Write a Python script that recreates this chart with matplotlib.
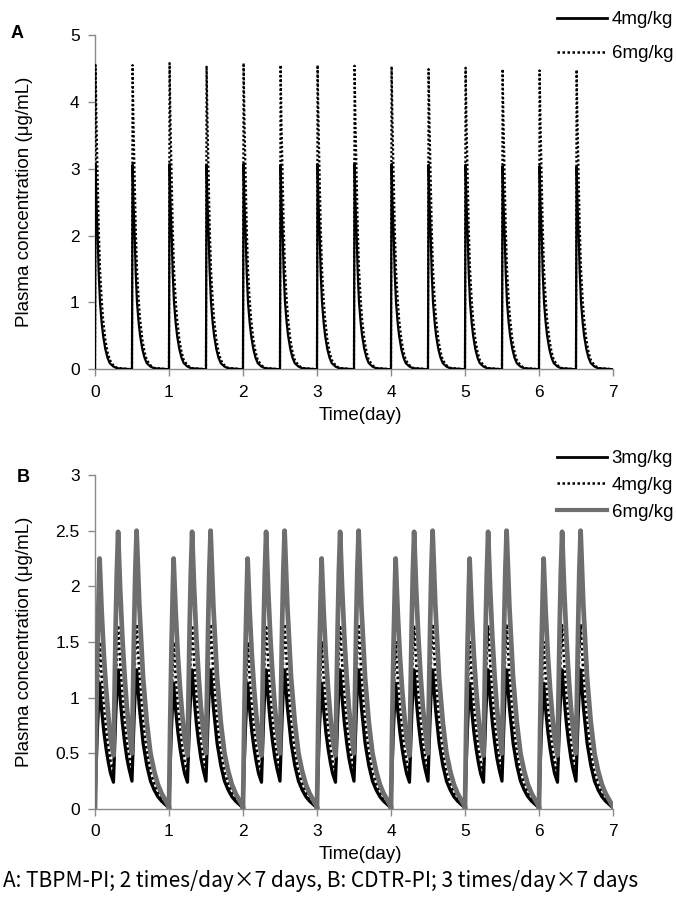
"""
Simulated plasma concentration profiles:
  A - TBPM-PI, 2 doses/day x 7 days (4 and 6 mg/kg)
  B - CDTR-PI, 3 doses/day x 7 days (3, 4 and 6 mg/kg)
Output: out.png
"""
import matplotlib
matplotlib.use('Agg')
import matplotlib.pyplot as plt
from matplotlib.lines import Line2D

plt.rcParams['font.family'] = ['Liberation Sans', 'DejaVu Sans']

# ── Panel A: TBPM-PI, two doses per day ───────────────────────────────────────
A_DOSE_TIMES = [0.0, 0.5, 1.0, 1.5, 2.0, 2.5, 3.0, 3.5, 4.0, 4.5, 5.0, 5.5, 6.0, 6.5]
A_PEAK_4 = [3.07, 3.06, 3.07, 3.06, 3.07, 3.06, 3.07, 3.08, 3.07, 3.06, 3.06, 3.04, 3.04, 3.03]
A_PEAK_6 = [4.55, 4.55, 4.58, 4.54, 4.58, 4.55, 4.55, 4.54, 4.53, 4.49, 4.51, 4.49, 4.47, 4.48]

# shape of one pulse (days after dose): start, peak, then decay values
A_OFFSETS = [0.0, 0.008, 0.02, 0.036, 0.05, 0.068, 0.09, 0.11, 0.14, 0.17, 0.20, 0.25, 0.30, 0.50]
A_TAIL_4 = [2.5, 2.0, 1.45, 1.0, 0.7, 0.5, 0.3, 0.17, 0.09, 0.04, 0.015, 0.0]
A_TAIL_6 = [3.7, 2.9, 2.15, 1.5, 1.05, 0.75, 0.45, 0.26, 0.14, 0.06, 0.02, 0.0]

# ── Panel B: CDTR-PI, three doses per day (same profile every day) ─────────────
B_DAYS = [0, 1, 2, 3, 4, 5, 6]
B_OFFSETS = [0.0, 0.017, 0.034, 0.051, 0.0625,
             0.09, 0.12, 0.15, 0.18, 0.21, 0.25,
             0.265, 0.28, 0.295, 0.3125,
             0.34, 0.37, 0.40, 0.43, 0.46, 0.50,
             0.515, 0.53, 0.545, 0.5625,
             0.60, 0.65, 0.70, 0.75, 0.80, 0.85, 0.90, 0.95, 1.0]
B_3 = [0.0, 0.40, 0.73, 0.98, 1.13,
       0.89, 0.69, 0.54, 0.42, 0.32, 0.24,
       0.55, 0.83, 1.06, 1.25,
       0.99, 0.77, 0.60, 0.46, 0.36, 0.25,
       0.56, 0.84, 1.07, 1.25,
       0.91, 0.59, 0.39, 0.25, 0.17, 0.11, 0.07, 0.04, 0.01]
B_4 = [0.0, 0.53, 0.97, 1.31, 1.50,
       1.19, 0.92, 0.72, 0.56, 0.43, 0.32,
       0.73, 1.11, 1.41, 1.65,
       1.32, 1.03, 0.80, 0.61, 0.48, 0.33,
       0.75, 1.12, 1.43, 1.66,
       1.21, 0.79, 0.52, 0.33, 0.23, 0.15, 0.09, 0.05, 0.01]
B_6 = [0.0, 0.80, 1.46, 1.96, 2.25,
       1.78, 1.38, 1.08, 0.84, 0.64, 0.48,
       1.10, 1.66, 2.12, 2.49,
       1.98, 1.54, 1.20, 0.92, 0.72, 0.50,
       1.12, 1.68, 2.14, 2.50,
       1.82, 1.18, 0.78, 0.50, 0.34, 0.22, 0.14, 0.08, 0.02]

A_TICKS_Y = [0, 1, 2, 3, 4, 5]
B_TICKS_Y = [0, 0.5, 1, 1.5, 2, 2.5, 3]
B_TICKLABELS_Y = ['0', '0.5', '1', '1.5', '2', '2.5', '3']
X_TICKS = [0, 1, 2, 3, 4, 5, 6, 7]

CAPTION = "A: TBPM-PI; 2 times/day\u00d77 days, B: CDTR-PI; 3 times/day\u00d77 days"

AXIS_GREY = '#8a8a8a'
LINE_GREY = '#6e6e6e'
DOT = (0, (1, 1))


def train_a(peaks, tail):
    t, c = [], []
    for d, p in zip(A_DOSE_TIMES, peaks):
        t += [d + o for o in A_OFFSETS]
        c += [0.0, p] + tail
    return t, c


def train_b(profile):
    t, c = [], []
    for d in B_DAYS:
        t += [d + o for o in B_OFFSETS]
        c += profile
    return t, c


def style_axes(ax, yticks, ylabels, ymax):
    ax.set_xlim(0, 7)
    ax.set_ylim(0, ymax)
    ax.set_xticks(X_TICKS)
    ax.set_yticks(yticks)
    ax.set_yticklabels(ylabels)
    for s in ('top', 'right'):
        ax.spines[s].set_visible(False)
    for s in ('left', 'bottom'):
        ax.spines[s].set_color(AXIS_GREY)
        ax.spines[s].set_linewidth(1.0)
    ax.tick_params(colors=AXIS_GREY, labelcolor='black', labelsize=12.5,
                   length=5, width=1.0, pad=6)
    ax.set_xlabel('Time(day)', fontsize=13.5)
    ax.set_ylabel('Plasma concentration (\u03bcg/mL)', fontsize=13.5)
    ax.xaxis.set_label_coords(0.513, -0.112)
    ax.yaxis.set_label_coords(-0.12, 0.5)


fig = plt.figure(figsize=(6.76, 9.14), dpi=100)
axA = fig.add_axes([0.1405, 0.5960, 0.7663, 0.3657])
axB = fig.add_axes([0.1405, 0.1149, 0.7663, 0.3654])

# ── A ──
t4, c4 = train_a(A_PEAK_4, A_TAIL_4)
t6, c6 = train_a(A_PEAK_6, A_TAIL_6)
axA.plot(t4, c4, color='black', lw=1.6, zorder=3)
axA.plot(t6, c6, color='black', lw=1.6, linestyle=DOT, zorder=4)
style_axes(axA, A_TICKS_Y, [str(v) for v in A_TICKS_Y], 5)

handles_a = [Line2D([], [], color='black', lw=2.0),
             Line2D([], [], color='black', lw=1.8, linestyle=DOT)]
axA.legend(handles_a, ['4mg/kg', '6mg/kg'], loc='upper left',
           bbox_to_anchor=(0.824, 0.988), bbox_transform=fig.transFigure,
           frameon=False, fontsize=13.5, handlelength=2.67, handletextpad=0.25,
           labelspacing=0.92, borderpad=0, borderaxespad=0)

# ── B ──
tb, cb3 = train_b(B_3)
_, cb4 = train_b(B_4)
_, cb6 = train_b(B_6)
axB.plot(tb, cb3, color='black', lw=2.3, solid_joinstyle='round', zorder=3)
axB.plot(tb, cb4, color='black', lw=1.9, linestyle=DOT, zorder=4)
axB.plot(tb, cb6, color=LINE_GREY, lw=3.4, solid_joinstyle='round', zorder=5)
style_axes(axB, B_TICKS_Y, B_TICKLABELS_Y, 3)

handles_b = [Line2D([], [], color='black', lw=2.0),
             Line2D([], [], color='black', lw=1.8, linestyle=DOT),
             Line2D([], [], color=LINE_GREY, lw=3.0)]
axB.legend(handles_b, ['3mg/kg', '4mg/kg', '6mg/kg'], loc='upper left',
           bbox_to_anchor=(0.824, 0.5077), bbox_transform=fig.transFigure,
           frameon=False, fontsize=13.5, handlelength=2.67, handletextpad=0.25,
           labelspacing=0.52, borderpad=0, borderaxespad=0)

# panel letters
fig.text(17 / 676, 1 - 33 / 914, 'A', fontsize=13, fontweight='bold', ha='center', va='center')
fig.text(23 / 676, 1 - 477 / 914, 'B', fontsize=13, fontweight='bold', ha='center', va='center')

# caption
fig.text(3 / 676, 1 - 881 / 914, CAPTION, fontsize=15, ha='left', va='center',
         family=['Noto Sans CJK JP', 'DejaVu Sans'])

fig.savefig('out.png', dpi=100)
